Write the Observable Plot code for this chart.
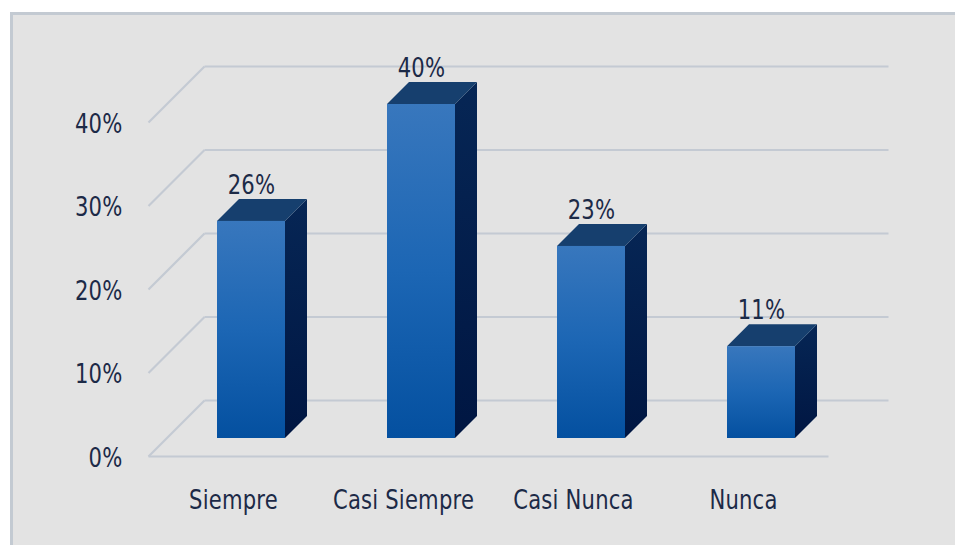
<!DOCTYPE html>
<html>
<head>
<meta charset="utf-8">
<script src="https://cdn.jsdelivr.net/npm/d3@7"></script>
<script src="https://cdn.jsdelivr.net/npm/@observablehq/plot@0.6"></script>
<style>
  html, body { margin: 0; padding: 0; background: #ffffff; width: 955px; height: 545px; overflow: hidden; }
  #panel { position: absolute; left: 10px; top: 12px; right: 0; bottom: 0; background: #e3e3e3;
           border-left: 3px solid #c3cad2; border-top: 3px solid #c3cad2; }
  #chart { position: absolute; left: 0; top: 0; }
  #chart svg { overflow: visible; }
</style>
</head>
<body>
<div id="panel"></div>
<div id="chart"></div>
<script>
// ---- data ----
const categories = ["Siempre", "Casi Siempre", "Casi Nunca", "Nunca"];
const values = [26, 40, 23, 11];
const valueLabels = ["26%", "40%", "23%", "11%"];
const yTicks = [0, 10, 20, 30, 40];
const tickLabels = ["0%", "10%", "20%", "30%", "40%"];

// ---- layout ----
const W = 955, H = 545;
const M = {top: 104, right: 109, bottom: 107, left: 166};
const xDomain = [-0.5, 3.5], yDomain = [0, 40];
const pxX = (W - M.left - M.right) / (xDomain[1] - xDomain[0]);
const pxY = (H - M.top - M.bottom) / (yDomain[1] - yDomain[0]);
// depth (pixels, positive = towards the back) converted to data offsets
const off = d => ({dx: d / pxX, dy: d / pxY});
const FRONT = off(-18), BACK = off(38), BAR = off(22), WALLEXT = off(4);
const HALF = 0.2;
const FONT = "'DejaVu Sans Condensed', 'Liberation Sans Narrow', sans-serif";
const FS = 23.5;
const TEXT = "#1c2a47";
const GRID = "#c4cad3";

const bars = categories.map((c, i) => ({i, cat: c, v: values[i], label: valueLabels[i]}));
const ticks = yTicks.map((t, k) => ({t, label: tickLabels[k]}));

// side faces: two points each (front edge, back edge)
const sideFaces = bars.flatMap(b => [
  {i: b.i, x: b.i + HALF, y1: 0, y2: b.v},
  {i: b.i, x: b.i + HALF + BAR.dx, y1: BAR.dy, y2: b.v + BAR.dy}
]);
// top faces
const topFaces = bars.flatMap(b => [
  {i: b.i, y: b.v, x1: b.i - HALF, x2: b.i + HALF},
  {i: b.i, y: b.v + BAR.dy, x1: b.i - HALF + BAR.dx, x2: b.i + HALF + BAR.dx}
]);

const chart = Plot.plot({
  width: W, height: H,
  marginTop: M.top, marginRight: M.right, marginBottom: M.bottom, marginLeft: M.left,
  style: {background: "transparent", fontFamily: FONT, overflow: "visible"},
  x: {type: "linear", domain: xDomain, axis: null},
  y: {type: "linear", domain: yDomain, axis: null},
  marks: [
    // back wall gridlines
    Plot.link(ticks, {
      x1: xDomain[0] + BACK.dx, x2: xDomain[1] + BACK.dx + WALLEXT.dx,
      y1: d => d.t + BACK.dy, y2: d => d.t + BACK.dy,
      stroke: GRID, strokeWidth: 2.2
    }),
    // diagonal side-wall gridlines
    Plot.link(ticks, {
      x1: xDomain[0] + FRONT.dx, x2: xDomain[0] + BACK.dx,
      y1: d => d.t + FRONT.dy, y2: d => d.t + BACK.dy,
      stroke: GRID, strokeWidth: 2.2
    }),
    // front floor edge
    Plot.link([0], {
      x1: xDomain[0] + FRONT.dx, x2: xDomain[1] + FRONT.dx,
      y1: FRONT.dy, y2: FRONT.dy,
      stroke: GRID, strokeWidth: 2.2
    }),
    // bar side faces
    Plot.areaY(sideFaces, {x: "x", y1: "y1", y2: "y2", z: "i", fill: "url(#gSide)", curve: "linear"}),
    // bar top faces
    Plot.areaX(topFaces, {y: "y", x1: "x1", x2: "x2", z: "i", fill: "#163f6e", curve: "linear"}),
    // bar front faces
    Plot.rect(bars, {x1: d => d.i - HALF, x2: d => d.i + HALF, y1: 0, y2: "v", fill: "url(#gFront)"}),
    // value labels
    Plot.text(bars, {x: "i", y: "v", text: "label", dy: -36, fill: TEXT, fontSize: FS,
      textAnchor: "middle"}),
    // y tick labels
    Plot.text(ticks, {x: xDomain[0] + FRONT.dx, y: d => d.t + FRONT.dy, text: "label",
      dx: -26, dy: 2, textAnchor: "end", fill: TEXT, fontSize: FS}),
    // category labels
    Plot.text(bars, {x: d => d.i + FRONT.dx, y: FRONT.dy, text: "cat", dy: 44,
      fill: TEXT, fontSize: FS, textAnchor: "middle"})
  ]
});

// gradients
const ns = "http://www.w3.org/2000/svg";
const defs = document.createElementNS(ns, "defs");
defs.innerHTML = `
  <linearGradient id="gFront" x1="0" y1="0" x2="0" y2="1">
    <stop offset="0" stop-color="#3877bd"/>
    <stop offset="0.5" stop-color="#1c66b4"/>
    <stop offset="1" stop-color="#0450a0"/>
  </linearGradient>
  <linearGradient id="gSide" x1="0" y1="0" x2="0" y2="1">
    <stop offset="0" stop-color="#062655"/>
    <stop offset="1" stop-color="#001642"/>
  </linearGradient>`;
chart.insertBefore(defs, chart.firstChild);
// Calibri-like proportions: slightly taller glyphs
chart.querySelectorAll("text").forEach(t => {
  t.setAttribute("letter-spacing", "0.2");
  const tr = t.getAttribute("transform");
  if (tr) t.setAttribute("transform", tr + " scale(1,1.12)");
});
document.getElementById("chart").appendChild(chart);
</script>
</body>
</html>
